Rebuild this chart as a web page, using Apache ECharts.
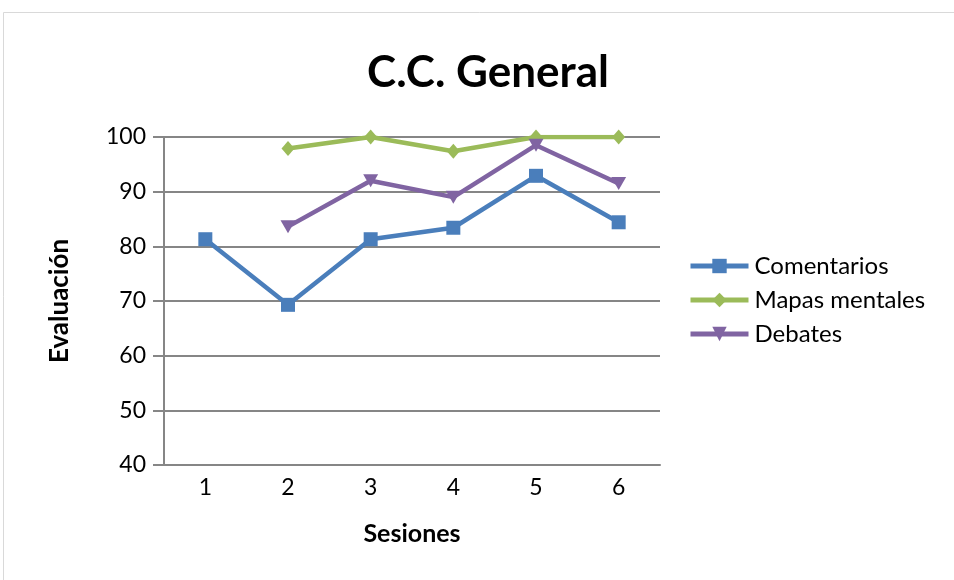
<!DOCTYPE html>
<html>
<head>
<meta charset="utf-8">
<script src="https://cdn.jsdelivr.net/npm/echarts@6/dist/echarts.min.js"></script>
<style>
  html, body { margin: 0; padding: 0; background: #fff; }
  #chart { width: 954px; height: 580px; }
</style>
</head>
<body>
<div id="chart"></div>
<script>
// Session numbers along the x axis
const sessions = ['1', '2', '3', '4', '5', '6'];

// Evaluation scores per technique (null = no session recorded)
const comentarios = [81.3, 69.3, 81.3, 83.4, 92.9, 84.4];
const mapasMentales = [null, 97.9, 100, 97.4, 100, 100];
const debates = [null, 83.6, 92, 89, 98.5, 91.5];

const FONT = 'Lato, "Open Sans", sans-serif';

const chart = echarts.init(document.getElementById('chart'), null, { renderer: 'canvas' });

function lineSeries(name, data, color, symbol, size, rotate) {
  return {
    name: name,
    type: 'line',
    data: data,
    symbol: symbol,
    symbolSize: size,
    symbolRotate: rotate || 0,
    showAllSymbol: true,
    connectNulls: false,
    lineStyle: { color: color, width: 4.5 },
    itemStyle: { color: color, borderWidth: 0 },
    emphasis: { disabled: true },
    z: 3
  };
}

chart.setOption({
  animation: false,
  backgroundColor: '#ffffff',
  graphic: [{
    type: 'rect',
    shape: { x: 3.5, y: 12.5, width: 1000, height: 1000 },
    style: { fill: 'none', stroke: '#d9d9d9', lineWidth: 1 },
    silent: true
  }],
  title: {
    text: 'C.C. General',
    left: 483,
    textAlign: 'center',
    top: 46,
    textStyle: { fontFamily: FONT, fontSize: 44, fontWeight: 'bold', color: '#000' }
  },
  legend: {
    orient: 'vertical',
    left: 683,
    top: 249,
    itemWidth: 58,
    itemHeight: 18,
    itemGap: 10,
    lineStyle: { width: 5 },
    textStyle: { fontFamily: FONT, fontSize: 24, color: '#000', padding: [0, 0, 0, 1] },
    data: ['Comentarios', 'Mapas mentales', 'Debates']
  },
  grid: { left: 164, right: 294, top: 137, bottom: 115 },
  xAxis: {
    type: 'category',
    data: sessions,
    boundaryGap: true,
    name: 'Sesiones',
    nameLocation: 'middle',
    nameGap: 56,
    nameTextStyle: { fontFamily: FONT, fontSize: 25, fontWeight: 'bold', color: '#000' },
    axisLine: { lineStyle: { color: '#868686', width: 2 } },
    axisTick: { show: false },
    axisLabel: { fontFamily: FONT, fontSize: 23, color: '#000', margin: 11 },
    splitLine: { show: false }
  },
  yAxis: {
    type: 'value',
    min: 40,
    max: 100,
    interval: 10,
    name: 'Evaluación',
    nameLocation: 'middle',
    nameGap: 91,
    nameRotate: 90,
    nameTextStyle: { fontFamily: FONT, fontSize: 26, fontWeight: 'bold', color: '#000' },
    axisLine: { show: true, lineStyle: { color: '#868686', width: 2 } },
    axisTick: { show: true, length: 11, lineStyle: { color: '#868686', width: 2 } },
    axisLabel: { fontFamily: FONT, fontSize: 23, color: '#000', margin: 18 },
    splitLine: { show: true, lineStyle: { color: '#868686', width: 2 } }
  },
  series: [
    lineSeries('Comentarios', comentarios, '#4A7EBB', 'rect', 14),
    lineSeries('Mapas mentales', mapasMentales, '#9BBB59', 'diamond', [13, 15]),
    lineSeries('Debates', debates, '#8064A2', 'triangle', [15, 13], 180)
  ]
});
</script>
</body>
</html>
